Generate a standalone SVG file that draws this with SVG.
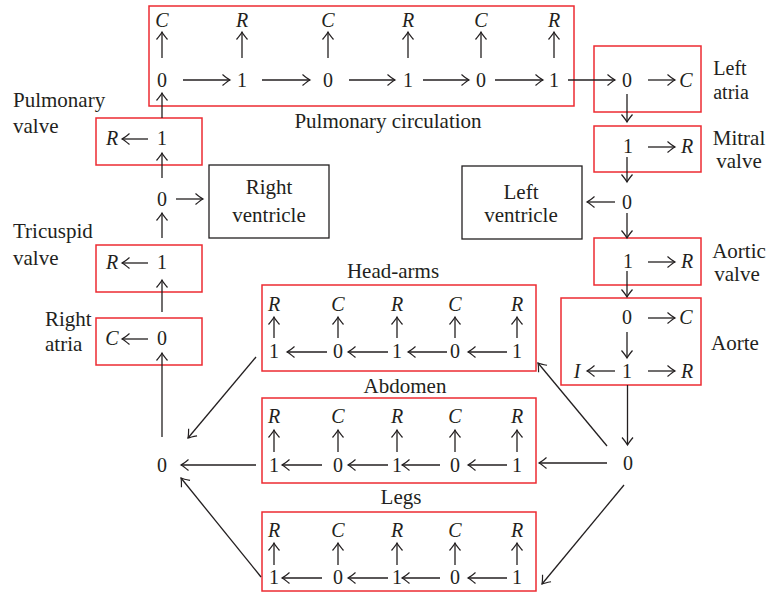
<svg xmlns="http://www.w3.org/2000/svg" width="767" height="592" viewBox="0 0 767 592">
<defs>
<style>
text{font-family:"Liberation Serif","Times New Roman",serif;fill:#231f20;font-size:20px;text-anchor:middle}
.lbl{font-size:21px}
.sm{font-size:20px}
.st{text-anchor:start}
.it{font-style:italic}
.rb{fill:none;stroke:#ed2b32;stroke-width:1.5}
.bb{fill:none;stroke:#231f20;stroke-width:1.3}
#connectors line{stroke:#231f20;stroke-width:1.3;marker-end:url(#ah)}
</style>
<marker id="ah" viewBox="-9 -7 11 14" refX="0" refY="0" markerWidth="11" markerHeight="14" markerUnits="userSpaceOnUse" orient="auto" overflow="visible">
<path d="M-7.5,-5.5 Q-2.5,-1.3 0,0 Q-2.5,1.3 -7.5,5.5" fill="none" stroke="#231f20" stroke-width="1.2"/>
</marker>
</defs>
<rect width="767" height="592" fill="#ffffff"/>

<g id="pulmonary-circulation">
<rect class="rb" x="149" y="6" width="425" height="100"/>
<text class="it" x="162" y="27">C</text><text class="it" x="242" y="27">R</text><text class="it" x="328" y="27">C</text><text class="it" x="408" y="27">R</text><text class="it" x="481" y="27">C</text><text class="it" x="554" y="27">R</text>
<text x="162" y="87">0</text><text x="242" y="87">1</text><text x="328" y="87">0</text><text x="408" y="87">1</text><text x="481" y="87">0</text><text x="554" y="87">1</text>
<text class="lbl" x="388" y="128">Pulmonary circulation</text>
</g>

<g id="left-atria">
<rect class="rb" x="594" y="46" width="107" height="66"/>
<text x="627" y="87">0</text><text class="it" x="686" y="87">C</text>
<text class="sm" x="730" y="75">Left</text><text class="sm" x="731" y="99">atria</text>
</g>

<g id="mitral-valve">
<rect class="rb" x="594" y="126" width="107" height="46"/>
<text x="628" y="153">1</text><text class="it" x="687" y="153">R</text>
<text class="lbl" x="739" y="145">Mitral</text><text class="lbl" x="739" y="168">valve</text>
</g>

<g id="left-junction">
<text x="627" y="209">0</text>
</g>

<g id="left-ventricle">
<rect class="bb" x="462" y="166" width="120" height="73"/>
<text class="lbl" x="521" y="199">Left</text><text class="lbl" x="521" y="222">ventricle</text>
</g>

<g id="aortic-valve">
<rect class="rb" x="594" y="238" width="107" height="47"/>
<text x="628" y="268">1</text><text class="it" x="687" y="268">R</text>
<text class="lbl" x="739" y="258">Aortic</text><text class="lbl" x="737" y="281">valve</text>
</g>

<g id="aorte">
<rect class="rb" x="561" y="298" width="140" height="87"/>
<text x="627" y="324">0</text><text class="it" x="686" y="324">C</text>
<text class="it" x="577" y="378">I</text><text x="627" y="378">1</text><text class="it" x="687" y="378">R</text>
<text class="lbl" x="735" y="350">Aorte</text>
</g>

<g id="systemic-split">
<text x="628" y="470">0</text>
</g>

<g id="head-arms">
<rect class="rb" x="262" y="285" width="274" height="86"/>
<text class="lbl" x="393" y="278">Head-arms</text>
<text class="it" x="274" y="311">R</text><text class="it" x="338" y="311">C</text><text class="it" x="397" y="311">R</text><text class="it" x="455" y="311">C</text><text class="it" x="517" y="311">R</text>
<text x="274" y="358">1</text><text x="338" y="358">0</text><text x="397" y="358">1</text><text x="455" y="358">0</text><text x="517" y="358">1</text>
</g>

<g id="abdomen">
<rect class="rb" x="262" y="398" width="274" height="85"/>
<text class="lbl" x="405" y="393">Abdomen</text>
<text class="it" x="274" y="423">R</text><text class="it" x="338" y="423">C</text><text class="it" x="397" y="423">R</text><text class="it" x="455" y="423">C</text><text class="it" x="517" y="423">R</text>
<text x="274" y="472">1</text><text x="338" y="472">0</text><text x="397" y="472">1</text><text x="455" y="472">0</text><text x="517" y="472">1</text>
</g>

<g id="legs">
<rect class="rb" x="262" y="512" width="274" height="79"/>
<text class="lbl" x="401" y="504">Legs</text>
<text class="it" x="274" y="537">R</text><text class="it" x="338" y="537">C</text><text class="it" x="397" y="537">R</text><text class="it" x="455" y="537">C</text><text class="it" x="517" y="537">R</text>
<text x="274" y="584">1</text><text x="338" y="584">0</text><text x="397" y="584">1</text><text x="455" y="584">0</text><text x="517" y="584">1</text>
</g>

<g id="systemic-merge">
<text x="162" y="472">0</text>
</g>

<g id="right-atria">
<rect class="rb" x="96" y="318" width="106" height="47"/>
<text class="it" x="112" y="345">C</text><text x="162" y="345">0</text>
<text class="lbl st" x="45" y="326">Right</text><text class="lbl st" x="45" y="351">atria</text>
</g>

<g id="tricuspid-valve">
<rect class="rb" x="96" y="245" width="106" height="47"/>
<text class="it" x="112" y="269">R</text><text x="162" y="269">1</text>
<text class="lbl st" x="13" y="238">Tricuspid</text><text class="lbl st" x="13" y="265">valve</text>
</g>

<g id="right-junction">
<text x="162" y="206">0</text>
</g>

<g id="right-ventricle">
<rect class="bb" x="209" y="165" width="120" height="73"/>
<text class="lbl" x="269" y="194">Right</text><text class="lbl" x="269" y="222">ventricle</text>
</g>

<g id="pulmonary-valve">
<rect class="rb" x="96" y="118" width="106" height="47"/>
<text class="it" x="112" y="145">R</text><text x="162" y="145">1</text>
<text class="lbl st" x="13" y="107">Pulmonary</text><text class="lbl st" x="13" y="133">valve</text>
</g>

<g id="connectors">
<!-- pulmonary circulation -->
<line x1="162" y1="58" x2="162" y2="32"/><line x1="242" y1="58" x2="242" y2="32"/><line x1="328" y1="58" x2="328" y2="32"/><line x1="408" y1="58" x2="408" y2="32"/><line x1="481" y1="58" x2="481" y2="32"/><line x1="554" y1="58" x2="554" y2="32"/>
<line x1="183" y1="80" x2="230" y2="80"/><line x1="262" y1="80" x2="310" y2="80"/><line x1="349" y1="80" x2="395" y2="80"/><line x1="423" y1="80" x2="469" y2="80"/><line x1="495" y1="80" x2="543" y2="80"/>
<line x1="568" y1="80" x2="615" y2="80"/>
<!-- left heart -->
<line x1="648" y1="80" x2="675" y2="80"/>
<line x1="627" y1="94" x2="627" y2="122"/>
<line x1="648" y1="147" x2="675" y2="147"/>
<line x1="627" y1="157" x2="627" y2="182"/>
<line x1="615" y1="202" x2="587" y2="202"/>
<line x1="627" y1="213" x2="627" y2="238"/>
<line x1="648" y1="262" x2="675" y2="262"/>
<line x1="627" y1="271" x2="627" y2="297"/>
<line x1="648" y1="318" x2="675" y2="318"/>
<line x1="627" y1="332" x2="627" y2="358"/>
<line x1="615" y1="371" x2="587" y2="371"/>
<line x1="648" y1="371" x2="675" y2="371"/>
<line x1="627.5" y1="385" x2="627.5" y2="445"/>
<!-- systemic split -->
<line x1="607" y1="463" x2="539" y2="463"/>
<line x1="607" y1="446" x2="538" y2="363"/>
<line x1="624" y1="485" x2="542" y2="584"/>
<!-- head-arms -->
<line x1="274" y1="338" x2="274" y2="317"/><line x1="338" y1="338" x2="338" y2="317"/><line x1="397" y1="338" x2="397" y2="317"/><line x1="455" y1="338" x2="455" y2="317"/><line x1="517" y1="338" x2="517" y2="317"/>
<line x1="507" y1="352" x2="468" y2="352"/><line x1="447" y1="352" x2="408" y2="352"/><line x1="388" y1="352" x2="348" y2="352"/><line x1="327" y1="352" x2="287" y2="352"/>
<!-- abdomen -->
<line x1="274" y1="452" x2="274" y2="430"/><line x1="338" y1="452" x2="338" y2="430"/><line x1="397" y1="452" x2="397" y2="430"/><line x1="455" y1="452" x2="455" y2="430"/><line x1="517" y1="452" x2="517" y2="430"/>
<line x1="507" y1="465" x2="468" y2="465"/><line x1="440" y1="465" x2="402" y2="465"/><line x1="388" y1="465" x2="348" y2="465"/><line x1="322" y1="465" x2="282" y2="465"/>
<!-- legs -->
<line x1="274" y1="565" x2="274" y2="543"/><line x1="338" y1="565" x2="338" y2="543"/><line x1="397" y1="565" x2="397" y2="543"/><line x1="455" y1="565" x2="455" y2="543"/><line x1="517" y1="565" x2="517" y2="543"/>
<line x1="507" y1="578" x2="468" y2="578"/><line x1="440" y1="578" x2="402" y2="578"/><line x1="388" y1="578" x2="348" y2="578"/><line x1="322" y1="578" x2="282" y2="578"/>
<!-- systemic merge -->
<line x1="256" y1="465" x2="181" y2="465"/>
<line x1="256" y1="357" x2="188" y2="438"/>
<line x1="261" y1="577" x2="181" y2="478"/>
<!-- right heart -->
<line x1="162" y1="437" x2="162" y2="353"/>
<line x1="148" y1="339" x2="122" y2="339"/>
<line x1="162" y1="312" x2="162" y2="280"/>
<line x1="148" y1="263" x2="122" y2="263"/>
<line x1="162" y1="238" x2="162" y2="213"/>
<line x1="176" y1="199" x2="203" y2="199"/>
<line x1="162" y1="178" x2="162" y2="153"/>
<line x1="148" y1="139" x2="122" y2="139"/>
<line x1="162" y1="118" x2="162" y2="93"/>
</g>
</svg>
